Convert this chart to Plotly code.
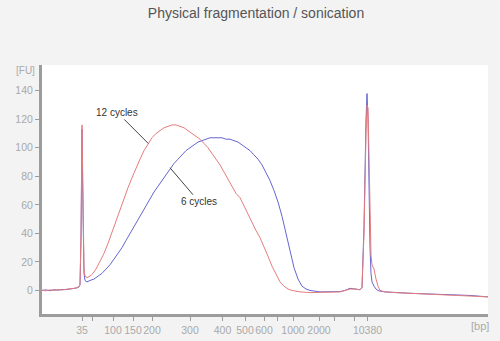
import plotly.graph_objects as go

# Migration time (s) for each trace point and fluorescence (FU)
red_time = [8.4, 9.2, 10.0, 10.8, 11.6, 12.4, 13.2, 14.0, 14.8, 15.4, 15.8, 16.0, 16.2, 16.4, 16.6, 16.8, 17.0, 17.4,
            18.0, 18.6, 19.2, 20.0, 20.8, 21.6, 22.4, 23.2, 24.0, 24.8, 25.6, 26.4, 27.2, 28.0, 28.8, 29.6, 30.4,
            31.2, 32.0, 32.8, 33.6, 34.4, 35.2, 36.0, 36.8, 37.6, 38.4, 39.2, 40.0, 40.8, 41.6, 42.4, 43.2, 44.0,
            44.8, 45.6, 46.4, 47.2, 48.0, 48.8, 49.6, 50.4, 51.2, 52.0, 52.8, 53.6, 54.4, 55.2, 56.0, 56.8, 57.6,
            58.4, 60.0, 62.0, 64.0, 66.0, 68.0, 69.0, 70.0, 71.0, 72.0, 72.4, 72.8, 73.2, 73.4, 73.6, 73.8, 74.0,
            74.2, 74.4, 74.8, 75.2, 75.6, 76.0, 77.0, 79.0, 82.0, 86.0, 90.0, 94.0, 97.6]
red_fu = [0.2, -0.3, 0.4, 0.0, 0.6, 0.3, 0.8, 1.0, 1.4, 2.0, 2.8, 4, 40, 116, 60, 15, 10, 9,
          10, 12, 15, 20, 26, 33, 41, 49, 57, 65, 72, 79, 86, 92, 98, 103, 107,
          110, 112, 114, 115, 116, 116, 115, 114, 112, 110, 108, 106, 103, 100, 96, 92, 88,
          83, 78, 72, 68, 65, 59, 54, 48, 42, 37, 31, 24, 17, 11, 6, 3, 1,
          0, -1, -1.5, -1.5, -1.2, -1, 0, 1, 1, 0.5, 2, 40, 110, 130, 128, 95, 50,
          25, 18, 15, 8, 3, 0, -1, -1.5, -2, -2.5, -3, -3.5, -4.5]

blue_time = [8.4, 9.2, 10.0, 10.8, 11.6, 12.4, 13.2, 14.0, 14.8, 15.4, 15.8, 16.0, 16.2, 16.4, 16.6, 16.8, 17.0, 17.4,
             18.0, 18.8, 19.6, 20.4, 21.2, 22.0, 22.8, 23.6, 24.4, 25.2, 26.0, 26.8, 27.6, 28.4, 29.2, 30.0, 30.8,
             31.6, 32.4, 33.2, 34.0, 34.8, 35.6, 36.4, 37.2, 38.0, 38.8, 39.6, 40.4, 41.2, 42.0, 42.8, 43.6, 44.4,
             45.2, 46.0, 46.8, 47.6, 48.4, 49.2, 50.0, 50.8, 51.6, 52.4, 53.2, 54.0, 54.8, 55.6, 56.4, 57.2, 58.0,
             58.8, 59.6, 60.4, 61.2, 62.0, 64.0, 66.0, 68.0, 69.0, 70.0, 71.0, 72.0, 72.4, 72.8, 73.2, 73.4, 73.6,
             73.8, 74.0, 74.2, 74.4, 74.8, 75.2, 75.6, 76.0, 77.0, 79.0, 82.0, 86.0, 90.0, 94.0, 97.6]
blue_fu = [0.0, 0.4, -0.2, 0.5, 0.2, 0.7, 0.6, 1.1, 1.2, 1.8, 2.5, 4, 35, 113, 55, 12, 7, 6,
           7, 8, 10, 12, 15, 18, 22, 26, 30, 35, 40, 45, 50, 55, 60, 65, 69,
           73, 77, 81, 85, 89, 92, 95, 98, 100, 102, 104, 105, 106, 107, 107, 107, 107,
           106, 106, 105, 104, 102, 100, 98, 95, 92, 88, 83, 77, 70, 62, 52, 40, 28,
           16, 8, 3, 1, 0, -1, -1, -0.8, 0, 1.5, 1, 0.5, 2, 45, 120, 138, 120,
           70, 30, 12, 6, 3, 1, 0, -0.5, -1, -1.5, -2, -2.5, -3, -3.5, -4.5]

# Ladder: migration time of each ladder band and its size label
ladder_time = [16.4, 18.4, 22.6, 26.6, 30.4, 38.0, 44.5, 49.0, 52.8, 55.4, 58.6, 63.8, 66.8, 70.8, 73.5]
ladder_text = ["35", "", "100", "150", "200", "300", "400", "500", "600", "", "1000", "2000", "", "", "10380"]

fu_ticks = [0, 20, 40, 60, 80, 100, 120, 140]

RED = "#e57c7c"
BLUE = "#6565d0"
AXIS = "#9c9c9c"
LABEL = "#a9a9a9"
FONT = "Liberation Sans, Arial, sans-serif"

fig = go.Figure()
fig.add_trace(go.Scatter(x=blue_time, y=blue_fu, mode="lines", name="6 cycles",
                         line=dict(color=BLUE, width=1)))
fig.add_trace(go.Scatter(x=red_time, y=red_fu, mode="lines", name="12 cycles",
                         line=dict(color=RED, width=1)))

L, R, T, B = 42, 12, 65, 27
W, H = 500, 341
pw, ph = W - L - R, H - T - B


def px_to_paper(px, py):
    return (px - L) / pw, (H - B - py) / ph


fu_x, fu_y = px_to_paper(25, 71)
bp_x, bp_y = px_to_paper(480, 326)

fig.update_layout(
    width=W, height=H,
    margin=dict(l=L, r=R, t=T, b=B, autoexpand=False),
    paper_bgcolor="#f3f3f3",
    plot_bgcolor="#ffffff",
    showlegend=False,
    font=dict(family=FONT, color=LABEL, size=11),
    title=dict(text="Physical fragmentation / sonication", x=0.512, xanchor="center",
               y=0.962, yanchor="middle", font=dict(size=14, color="#555555", family=FONT)),
    xaxis=dict(range=[8.4, 97.6], tickmode="array", tickvals=ladder_time, ticktext=ladder_text,
               showgrid=False, zeroline=False, showline=True, linecolor=AXIS, linewidth=3,
               ticks="outside", ticklen=4, tickcolor=AXIS, tickwidth=1, tickangle=0,
               automargin=False, tickfont=dict(size=10.5, color=LABEL)),
    yaxis=dict(range=[-16.5, 158], tickmode="array", tickvals=fu_ticks,
               showgrid=False, zeroline=False, showline=True, linecolor=AXIS, linewidth=3,
               ticks="outside", ticklen=4, tickcolor=AXIS, tickwidth=1,
               automargin=False, tickfont=dict(size=10.5, color=LABEL)),
    annotations=[
        dict(x=29.66, y=103, xref="x", yref="y", text="12 cycles", showarrow=True,
             arrowhead=0, arrowwidth=1, arrowcolor="#444444", ax=-31, ay=-31,
             font=dict(size=10, color="#333333", family=FONT)),
        dict(x=34.0, y=86, xref="x", yref="y", text="6 cycles", showarrow=True,
             arrowhead=0, arrowwidth=1, arrowcolor="#444444", ax=29, ay=34,
             font=dict(size=10, color="#333333", family=FONT)),
        dict(x=fu_x, y=fu_y, xref="paper", yref="paper", text="[FU]", showarrow=False,
             xanchor="center", yanchor="middle",
             font=dict(size=10, color=LABEL, family=FONT)),
        dict(x=bp_x, y=bp_y, xref="paper", yref="paper", text="[bp]", showarrow=False,
             xanchor="center", yanchor="middle",
             font=dict(size=11, color=LABEL, family=FONT)),
    ],
)

fig.write_html("out.html")
